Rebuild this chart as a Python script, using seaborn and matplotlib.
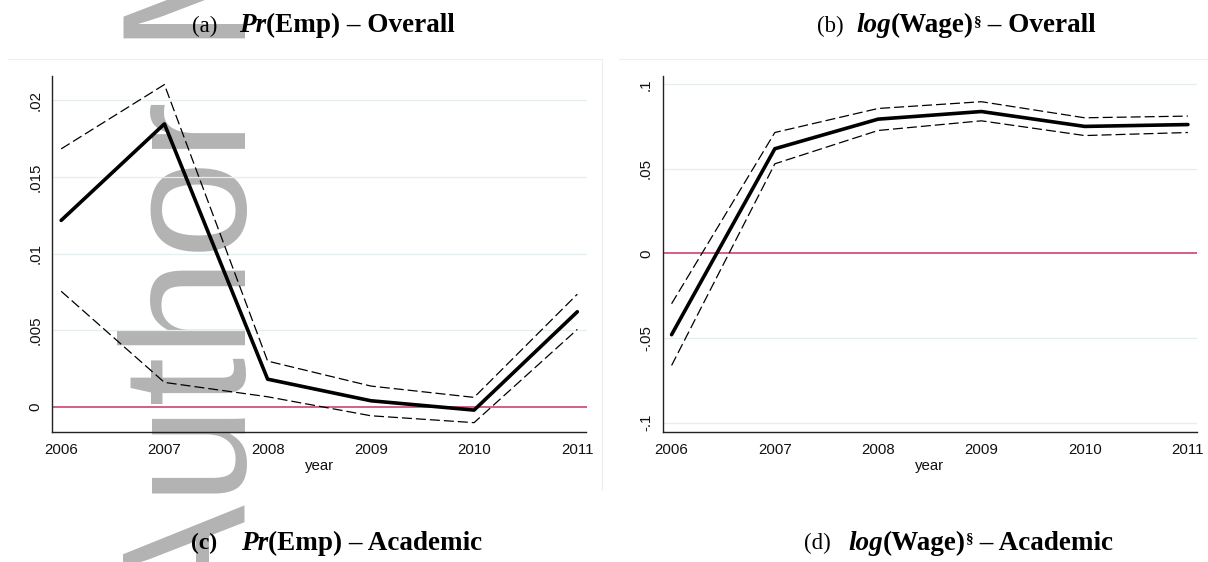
import matplotlib
matplotlib.use("Agg")
import matplotlib.pyplot as plt
import seaborn as sns
import pandas as pd
from matplotlib.lines import Line2D

# ---------------- data ----------------
years = [2006, 2007, 2008, 2009, 2010, 2011]

emp_est = [0.01217, 0.01847, 0.00180, 0.00039, -0.00022, 0.00620]
emp_upper = [0.01684, 0.02104, 0.00298, 0.00135, 0.00061, 0.00735]
emp_lower = [0.00754, 0.00159, 0.00065, -0.00059, -0.00104, 0.00505]

wage_est = [-0.0480, 0.0619, 0.0794, 0.0839, 0.0751, 0.0762]
wage_upper = [-0.0297, 0.0715, 0.0857, 0.0897, 0.0802, 0.0812]
wage_lower = [-0.0662, 0.0530, 0.0727, 0.0784, 0.0697, 0.0715]

emp_ticks = [0, 0.005, 0.01, 0.015, 0.02]
emp_ticklabels = ["0", ".005", ".01", ".015", ".02"]
wage_ticks = [-0.1, -0.05, 0, 0.05, 0.1]
wage_ticklabels = ["-.1", "-.05", "0", ".05", ".1"]
year_ticklabels = [str(y) for y in years]
xlabel_text = "year"
watermark_text = "Author Manuscript"

# ---------------- style ----------------
sns.set_theme(style="white")
plt.rcParams["font.family"] = ["Liberation Sans", "DejaVu Sans"]

W, H, DPI = 1208, 562, 100
fig = plt.figure(figsize=(W / DPI, H / DPI), dpi=DPI)
fig.patch.set_facecolor("white")

def px_rect(x0, x1, ytop, ybot):
    return [x0 / W, 1 - ybot / H, (x1 - x0) / W, (ybot - ytop) / H]

# faint graph-region borders
for (xa, xb, ya, yb) in [(8, 601.7, 59, 59), (601.7, 601.7, 59, 490), (619, 1208, 59, 59)]:
    fig.add_artist(Line2D([xa / W, xb / W], [1 - ya / H, 1 - yb / H],
                          transform=fig.transFigure, color="#EEEEEE", lw=0.8, zorder=-2))

# watermark (behind everything)
fig.text(246 / W, 1 - 621.7 / H, watermark_text, rotation=90, rotation_mode="anchor",
         ha="left", va="baseline", fontsize=127.4, family="Liberation Sans",
         color="#B3B3B3", zorder=-1)

ax1 = fig.add_axes(px_rect(52.4, 586.5, 76, 432.3))
ax2 = fig.add_axes(px_rect(662.8, 1197.1, 76, 432.3))

panels = [
    (ax1, emp_est, emp_upper, emp_lower, emp_ticks, emp_ticklabels, (-0.00167, 0.0216)),
    (ax2, wage_est, wage_upper, wage_lower, wage_ticks, wage_ticklabels, (-0.1057, 0.1049)),
]

for ax, est, up, lo, ticks, tlabels, ylim in panels:
    ax.set_facecolor("none")
    df = pd.DataFrame({"year": years, "est": est, "upper": up, "lower": lo})
    ax.set_yticks(ticks)
    ax.set_yticklabels(tlabels)
    ax.set_ylim(*ylim)
    ax.set_xticks(years)
    ax.set_xticklabels(year_ticklabels)
    ax.set_xlim(2005.915, 2011.089)
    # grid lines (none at the lowest tick next to the axis edge, none under the zero line)
    for t in ticks:
        if t != 0 and t > ylim[0] + 0.01 * (ylim[1] - ylim[0]):
            ax.axhline(t, color="#E4EEF0", lw=0.9, zorder=0.5)
    ax.axhline(0, color="#C8365E", lw=1.1, zorder=1)
    sns.lineplot(data=df, x="year", y="upper", ax=ax, color="black", lw=0.9,
                 linestyle=(0, (8, 3.2)), zorder=2)
    sns.lineplot(data=df, x="year", y="lower", ax=ax, color="black", lw=0.9,
                 linestyle=(0, (8, 3.2)), zorder=2)
    sns.lineplot(data=df, x="year", y="est", ax=ax, color="black", lw=2.6, zorder=3)
    ax.set_ylabel("")
    ax.set_xlabel(xlabel_text, fontsize=10.8, labelpad=1, color="#111111")
    for s in ["top", "right"]:
        ax.spines[s].set_visible(False)
    for s in ["left", "bottom"]:
        ax.spines[s].set_color("#222222")
        ax.spines[s].set_linewidth(1.0)
    ax.tick_params(axis="both", direction="out", length=4.0, width=0.8, color="#222222",
                   labelsize=10.8, labelcolor="#111111")
    ax.tick_params(axis="y", pad=3, labelrotation=90)
    ax.tick_params(axis="x", pad=4)
    for lab in ax.get_yticklabels():
        lab.set_va("center")
    ax.grid(False)

# ---------------- rich titles ----------------
renderer = fig.canvas.get_renderer()
BOLD = 19.5
REG = 16.5

def rich_text(base_px, pieces):
    x = 0
    for p in pieces:
        if "x" in p:
            x = p["x"]
        if "gap" in p:
            x += p["gap"]
            continue
        t = fig.text(x / W, 1 - (base_px - p.get("rise", 0)) / H, p["s"],
                     ha="left", va="baseline", family="Liberation Serif",
                     fontsize=p.get("size", BOLD), weight=p.get("weight", "bold"),
                     style=p.get("style", "normal"), color="black")
        bb = t.get_window_extent(renderer=renderer)
        x += bb.width

title_a = [{"s": "(a)", "weight": "normal", "size": REG, "x": 192},
           {"s": "Pr", "style": "italic", "x": 239}, {"s": "(Emp) \u2013 Overall"}]
title_b = [{"s": "(b)", "weight": "normal", "size": REG, "x": 817},
           {"s": "log", "style": "italic", "x": 856}, {"s": "(Wage)"},
           {"s": "\u00a7", "size": 11, "rise": 7}, {"s": " \u2013 Overall"}]
title_c = [{"s": "(c)", "size": REG + 0.5, "x": 191},
           {"s": "Pr", "style": "italic", "x": 241}, {"s": "(Emp) \u2013 Academic"}]
title_d = [{"s": "(d)", "weight": "normal", "size": REG, "x": 804},
           {"s": "log", "style": "italic", "x": 848}, {"s": "(Wage)"},
           {"s": "\u00a7", "size": 11, "rise": 7}, {"s": " \u2013 Academic"}]

rich_text(32.5, title_a)
rich_text(32.5, title_b)
rich_text(549.5, title_c)
rich_text(549.5, title_d)

fig.savefig("out.png", dpi=DPI, facecolor="white")
